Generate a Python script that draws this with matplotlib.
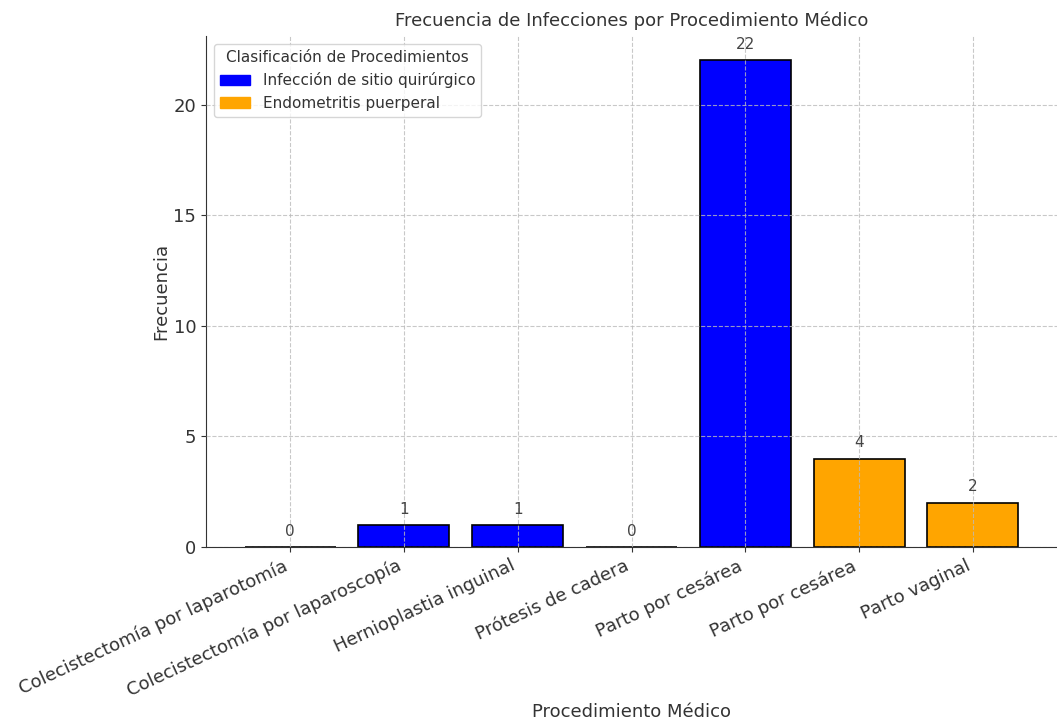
import matplotlib.pyplot as plt
from matplotlib.patches import Patch

procedures = [
    "Colecistectomía por laparotomía",
    "Colecistectomía por laparoscopía",
    "Hernioplastia inguinal",
    "Prótesis de cadera",
    "Parto por cesárea",
    "Parto por cesárea",
    "Parto vaginal",
]
frequencies = [0, 1, 1, 0, 22, 4, 2]
classification = [
    "Infección de sitio quirúrgico",
    "Infección de sitio quirúrgico",
    "Infección de sitio quirúrgico",
    "Infección de sitio quirúrgico",
    "Infección de sitio quirúrgico",
    "Endometritis puerperal",
    "Endometritis puerperal",
]
class_colors = {"Infección de sitio quirúrgico": "blue", "Endometritis puerperal": "orange"}

plt.rcParams["text.color"] = "#333333"
plt.rcParams["axes.labelcolor"] = "#333333"
plt.rcParams["xtick.color"] = "#333333"
plt.rcParams["ytick.color"] = "#333333"

fig = plt.figure(figsize=(10.57, 7.24), dpi=100)
ax = fig.add_axes([206 / 1057, 177 / 724, 1 - 206 / 1057, (547 - 36) / 724])

x = range(len(procedures))
colors = [class_colors[c] for c in classification]
bars = ax.bar(x, frequencies, color=colors, edgecolor="black", linewidth=1.2, zorder=1)
ax.bar_label(bars, labels=[str(v) for v in frequencies], padding=6, fontsize=11, color="#444444")

ax.set_xticks(list(x))
ax.set_xticklabels(procedures, rotation=25, ha="right", fontsize=13)
ax.tick_params(axis="y", labelsize=13)
ax.set_yticks([0, 5, 10, 15, 20])
ax.set_ylim(0, 23.1)

ax.grid(True, linestyle="--", color="#bbbbbb", linewidth=0.8, alpha=0.8, zorder=3)
ax.set_axisbelow(False)
for s in ("top", "right"):
    ax.spines[s].set_visible(False)
ax.spines["left"].set_color("#333333")
ax.spines["bottom"].set_color("#333333")

ax.set_title("Frecuencia de Infecciones por Procedimiento Médico", fontsize=13, pad=7)
ax.set_ylabel("Frecuencia", fontsize=13, labelpad=2)
fig.text(632 / 1057, 1 - 712 / 724, "Procedimiento Médico", fontsize=13,
         ha="center", va="center", color="#333333")

handles = [Patch(color=class_colors[k], label=k) for k in class_colors]
ax.legend(handles=handles, title="Clasificación de Procedimientos", loc="upper left",
          fontsize=11, title_fontsize=11)

fig.savefig("out.png", dpi=100)
